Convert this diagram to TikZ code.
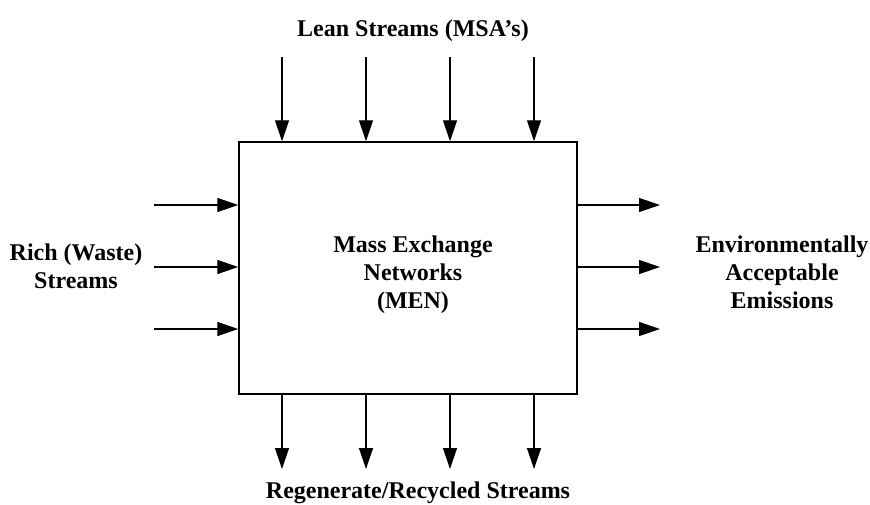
\documentclass[tikz,border=0pt]{standalone}
\usepackage{fontspec}
\setmainfont{Liberation Serif}
\usetikzlibrary{arrows.meta}
\begin{document}
\begin{tikzpicture}[x=1pt,y=-1pt,
  lbl/.style={font=\fontsize{24}{28}\selectfont\bfseries, align=center, inner sep=0pt, anchor=base},
  flow/.style={line width=1.3pt, -{Triangle[length=21pt,width=14pt]}},
  men/.style={draw, line width=1.5pt, minimum width=338pt, minimum height=252pt, inner sep=0pt}]
  \useasboundingbox (0,0) rectangle (870,504);
  % central unit
  \node[men] (box) at (408,268) {};
  \node[lbl] (title) at (413,308) {Mass Exchange\\Networks\\(MEN)};
  % stream labels (base anchor = baseline of the last line)
  \node[lbl] (lean) at (413,36) {Lean Streams (MSA’s)};
  \node[lbl] (rich) at (76,288) {Rich (Waste)\\Streams};
  \node[lbl] (emis) at (782,308) {Environmentally\\Acceptable\\Emissions};
  \node[lbl] (regen) at (418,498) {Regenerate/Recycled Streams};
  % lean streams entering from the top, regenerated streams leaving below
  \foreach \i/\x in {1/282,2/366,3/450,4/534}{
    \coordinate (t\i) at (\x,57);
    \coordinate (b\i) at (\x,469);
    \draw[flow] (t\i) -- (t\i |- box.north);
    \draw[flow] (b\i |- box.south) -- (b\i);
  }
  % rich streams in from the left, emissions out to the right
  \foreach \i/\y in {1/205,2/267,3/329}{
    \coordinate (l\i) at (154,\y);
    \coordinate (r\i) at (660,\y);
    \draw[flow] (l\i) -- (l\i -| box.west);
    \draw[flow] (r\i -| box.east) -- (r\i);
  }
\end{tikzpicture}
\end{document}
